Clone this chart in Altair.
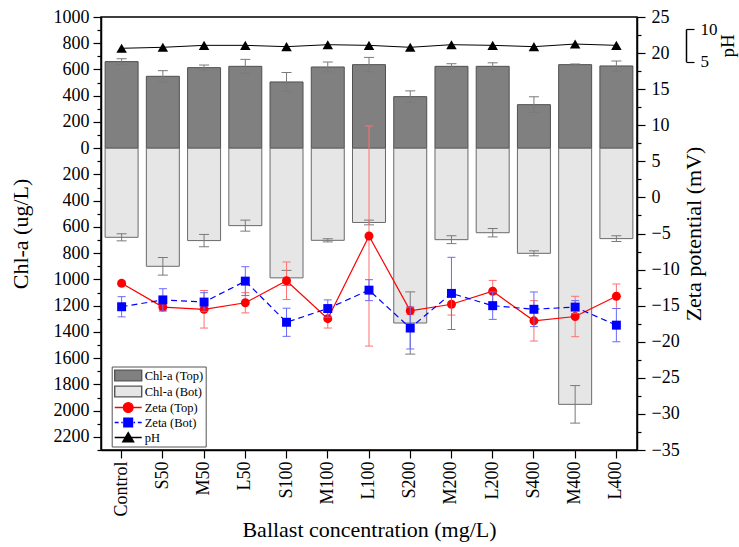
import altair as alt
import pandas as pd

categories = ["Control", "S50", "M50", "L50", "S100", "M100", "L100",
              "S200", "M200", "L200", "S400", "M400", "L400"]
chl_top = [660, 548, 614, 624, 505, 619, 637, 393, 624, 624, 332, 637, 627]
chl_top_err = [22, 43, 20, 53, 72, 38, 55, 44, 20, 27, 60, 5, 38]
chl_bot = [679, 900, 704, 590, 988, 702, 566, 1332, 697, 644, 801, 1952, 689]
chl_bot_err = [27, 67, 47, 42, 57, 12, 18, 237, 30, 32, 19, 143, 22]
zeta_top = [-11.9, -15.2, -15.5, -14.6, -11.55, -16.8, -5.35, -15.7, -14.8, -13.0, -17.1, -16.5, -13.7]
zeta_top_err = [0.3, 0.4, 2.6, 1.4, 2.6, 1.3, 15.25, 0.5, 1.5, 1.5, 2.8, 2.8, 1.7]
zeta_bot = [-15.15, -14.2, -14.5, -11.6, -17.3, -15.4, -12.85, -18.1, -13.3, -15.0, -15.5, -15.2, -17.7]
zeta_bot_err = [1.4, 1.55, 1.3, 2.0, 1.95, 1.2, 1.45, 2.9, 5.0, 1.9, 2.4, 0.9, 2.3]
ph = [7.05, 7.2, 7.5, 7.5, 7.3, 7.6, 7.5, 7.2, 7.6, 7.5, 7.3, 7.7, 7.5]

series_names = ["Chl-a (Top)", "Chl-a (Bot)", "Zeta (Top)", "Zeta (Bot)", "pH"]
series_fills = ["#808080", "#e6e6e6", "#ff0000", "#0000ff", "#000000"]
series_strokes = ["#555555", "#555555", "#ff0000", "#0000ff", "#000000"]
# legend glyphs (unit = 6 px with symbolSize 144)
series_paths = [
    "M-2.25,-0.9H2.25V0.9H-2.25Z",
    "M-2.25,-0.9H2.25V0.9H-2.25Z",
    "M-2.25,0H2.25M0.8,0A0.8,0.8 0 1 1 -0.8,0A0.8,0.8 0 1 1 0.8,0Z",
    "M-2.25,0H-1.6M-1.15,0H-0.9M0.9,0H1.15M1.6,0H2.25M-0.72,-0.72H0.72V0.72H-0.72Z",
    "M-2.25,0H2.25M0,-0.8L0.9,0.7H-0.9Z",
]

df = pd.DataFrame({
    "cat": categories,
    "top": chl_top,
    "top_lo": [v - e for v, e in zip(chl_top, chl_top_err)],
    "top_hi": [v + e for v, e in zip(chl_top, chl_top_err)],
    "bot": [-v for v in chl_bot],
    "bot_lo": [-(v + e) for v, e in zip(chl_bot, chl_bot_err)],
    "bot_hi": [-(v - e) for v, e in zip(chl_bot, chl_bot_err)],
    "zt": zeta_top,
    "zt_lo": [v - e for v, e in zip(zeta_top, zeta_top_err)],
    "zt_hi": [v + e for v, e in zip(zeta_top, zeta_top_err)],
    "zb": zeta_bot,
    "zb_lo": [v - e for v, e in zip(zeta_bot, zeta_bot_err)],
    "zb_hi": [v + e for v, e in zip(zeta_bot, zeta_bot_err)],
    "ph": ph,
})
legend_df = pd.DataFrame({"series": series_names})

FONT = "Liberation Serif"
base = alt.Chart(df)
common_axis = dict(labelFont=FONT, titleFont=FONT, labelColor="black", titleColor="black",
                   titleFontWeight="normal", labelFontWeight="normal", grid=False,
                   domainColor="black", domainWidth=1.5, tickColor="black", tickWidth=1.2)

x_enc = alt.X(
    "cat:N", sort=categories,
    scale=alt.Scale(domain=categories, paddingInner=0.2, paddingOuter=0.1),
    axis=alt.Axis(title="Ballast concentration (mg/L)", labelAngle=-90, tickSize=8,
                  labelPadding=3, titlePadding=3, labelFontSize=18, titleFontSize=22,
                  **common_axis),
)

chl_scale = alt.Scale(domain=[-2300, 1000], nice=False, zero=False)
chl_axis = alt.Axis(orient="left", values=list(range(-2200, 1001, 200)),
                    labelExpr="abs(datum.value)", title="Chl-a (ug/L)",
                    tickSize=8, labelPadding=4, titlePadding=21,
                    labelFontSize=18, titleFontSize=22, **common_axis)


def ychl(field):
    return alt.Y(f"{field}:Q", scale=chl_scale, axis=chl_axis)


zeta_scale = alt.Scale(domain=[-35, 25], nice=False, zero=False)
zeta_axis = alt.Axis(orient="right", values=list(range(-35, 26, 5)),
                     title="Zeta potential (mV)", titleAngle=-90, titleBaseline="top",
                     tickSize=8, labelPadding=6, titlePadding=4,
                     labelFontSize=18, titleFontSize=22, **common_axis)


def yz(field):
    return alt.Y(f"{field}:Q", scale=zeta_scale, axis=zeta_axis)


ph_scale = alt.Scale(domain=[5, 10], range=[44.7, 12], nice=False, zero=False)
ph_axis = alt.Axis(orient="right", offset=49, values=[5, 10], title="pH",
                   titleAngle=-90, titleBaseline="top", tickSize=8, labelPadding=6,
                   titlePadding=1, labelFontSize=17, titleFontSize=19, **common_axis)

# Chl-a layers
bar_top = base.mark_bar(fill="#808080", stroke="#505050", strokeWidth=1).encode(
    x=x_enc, y=ychl("top"), y2=alt.datum(0))
bar_bot = base.mark_bar(fill="#e6e6e6", stroke="#6a6a6a", strokeWidth=1).encode(
    x=x_enc, y=ychl("bot"), y2=alt.datum(0))
err_top = base.mark_rule(color="#7a7a7a", strokeWidth=1).encode(
    x=x_enc, y=ychl("top_lo"), y2="top_hi:Q")
err_bot = base.mark_rule(color="#7a7a7a", strokeWidth=1).encode(
    x=x_enc, y=ychl("bot_lo"), y2="bot_hi:Q")
caps_chl = base.transform_fold(["top_lo", "top_hi", "bot_lo", "bot_hi"], as_=["k", "v"]).mark_tick(
    color="#7a7a7a", thickness=1, size=10, opacity=1).encode(x=x_enc, y=ychl("v"))
chl_layer = alt.layer(bar_top, bar_bot, err_top, err_bot, caps_chl)

# Zeta layers
zt_err = base.mark_rule(color="#ff7070", strokeWidth=1).encode(x=x_enc, y=yz("zt_lo"), y2="zt_hi:Q")
zt_caps = base.transform_fold(["zt_lo", "zt_hi"], as_=["k", "v"]).mark_tick(
    color="#ff7070", thickness=1, size=8, opacity=1).encode(x=x_enc, y=yz("v"))
zt_line = base.mark_line(color="#ff0000", strokeWidth=1.2).encode(x=x_enc, y=yz("zt"))
zt_pts = base.mark_point(shape="circle", filled=True, size=80, color="#ff0000", opacity=1).encode(
    x=x_enc, y=yz("zt"))
zb_err = base.mark_rule(color="#6a6aff", strokeWidth=1).encode(x=x_enc, y=yz("zb_lo"), y2="zb_hi:Q")
zb_caps = base.transform_fold(["zb_lo", "zb_hi"], as_=["k", "v"]).mark_tick(
    color="#6a6aff", thickness=1, size=8, opacity=1).encode(x=x_enc, y=yz("v"))
zb_line = base.mark_line(color="#0000ff", strokeWidth=1.2, strokeDash=[6, 4]).encode(x=x_enc, y=yz("zb"))
zb_pts = base.mark_point(shape="square", filled=True, size=80, color="#0000ff", opacity=1).encode(
    x=x_enc, y=yz("zb"))
zeta_layer = alt.layer(zt_err, zt_caps, zt_line, zt_pts, zb_err, zb_caps, zb_line, zb_pts)

# pH layers
ph_line = base.mark_line(color="black", strokeWidth=1).encode(
    x=x_enc, y=alt.Y("ph:Q", scale=ph_scale, axis=ph_axis))
ph_pts = base.mark_point(shape="triangle-up", filled=True, size=110, color="black", opacity=1).encode(
    x=x_enc, y=alt.Y("ph:Q", scale=ph_scale, axis=ph_axis))
ph_layer = alt.layer(ph_line, ph_pts)

# minor ticks
minor_left = base.transform_filter("false").mark_point().encode(
    y=alt.Y("top:Q", scale=chl_scale,
            axis=alt.Axis(orient="left", values=list(range(-2300, 1000, 200)), labels=False,
                          tickSize=4, domain=False, title=None, tickColor="black",
                          tickWidth=1.2, grid=False)))
minor_right = base.transform_filter("false").mark_point().encode(
    y=alt.Y("zt:Q", scale=zeta_scale,
            axis=alt.Axis(orient="right", values=[v + 2.5 for v in range(-35, 25, 5)], labels=False,
                          tickSize=4, domain=False, title=None, tickColor="black",
                          tickWidth=1.2, grid=False)))

# legend
leg = alt.Legend(title=None, orient="none", legendX=10.7, legendY=349.5, padding=2,
                 rowPadding=-3, labelFont=FONT, labelFontSize=12.5, labelOffset=9.5,
                 symbolOffset=7.5, symbolSize=144, symbolStrokeWidth=1.4,
                 strokeColor="#555555", fillColor="white", symbolOpacity=1,
                 labelColor="black")
legend_layer = alt.Chart(legend_df).transform_filter("false").mark_point(filled=True, opacity=1).encode(
    fill=alt.Fill("series:N", scale=alt.Scale(domain=series_names, range=series_fills), legend=leg),
    stroke=alt.Stroke("series:N", scale=alt.Scale(domain=series_names, range=series_strokes), legend=leg),
    shape=alt.Shape("series:N", scale=alt.Scale(domain=series_names, range=series_paths), legend=leg),
)

chart = alt.layer(chl_layer, zeta_layer, ph_layer, minor_left, minor_right, legend_layer).resolve_scale(
    y="independent"
).properties(
    width=536, height=433,
    padding={"left": 101, "top": 17, "right": 102, "bottom": 97},
    autosize="none",
).configure_view(
    stroke="black", strokeWidth=1.5
).configure_axis(
    grid=False, labelFont=FONT, titleFont=FONT
).configure_legend(
    labelFont=FONT, labelColor="black"
)

chart.save("out.html", embed_options={"renderer": "svg", "actions": False})
